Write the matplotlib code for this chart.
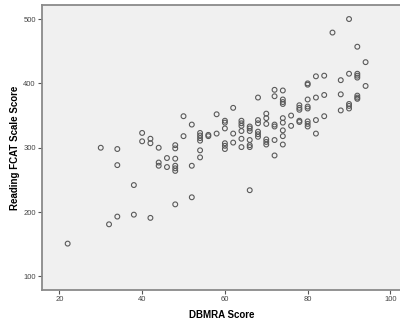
import matplotlib
matplotlib.use("Agg")
import matplotlib.pyplot as plt

plt.rcParams['font.family'] = ['Liberation Sans', 'DejaVu Sans']

# DBMRA score (x) -> list of Reading FCAT scale scores (y)
dbmra_groups = [22, 30, 32, 34, 38, 40, 42, 44, 46, 48, 50, 52, 54, 56, 58, 60,
                62, 64, 66, 68, 70, 72, 74, 76, 78, 80, 82, 84, 86, 88, 90, 92, 94]
fcat_groups = [
    [151],
    [300],
    [181],
    [298, 273, 193],
    [242, 196],
    [323, 310],
    [314, 307, 191],
    [300, 277, 272],
    [284, 270],
    [304, 299, 283, 272, 268, 264, 212],
    [349, 318],
    [336, 272, 223],
    [323, 319, 315, 311, 296, 285],
    [320, 318],
    [352, 322],
    [342, 339, 330, 307, 303, 298],
    [362, 322, 308],
    [342, 338, 334, 326, 314, 301],
    [333, 330, 326, 312, 304, 301, 234],
    [378, 343, 338, 325, 321, 317],
    [353, 346, 337, 313, 309, 305],
    [390, 380, 336, 333, 312, 288],
    [389, 375, 371, 368, 346, 339, 327, 318, 305],
    [350, 334],
    [366, 362, 359, 342, 340],
    [400, 398, 375, 364, 361, 341, 337, 333],
    [411, 378, 343, 322],
    [412, 382, 349],
    [479],
    [405, 383, 358],
    [500, 415, 368, 365, 361],
    [457, 415, 412, 409, 381, 378, 376],
    [433, 396],
]

x_ticks = [20, 40, 60, 80, 100]
y_ticks = [100, 200, 300, 400, 500]

xs, ys = [], []
for xv, yl in zip(dbmra_groups, fcat_groups):
    for yv in yl:
        xs.append(xv)
        ys.append(yv)

fig = plt.figure(figsize=(4.0, 3.26), dpi=100)
fig.patch.set_facecolor('white')
ax = fig.add_axes([0.105, 0.110, 0.90, 0.875])
ax.set_facecolor('#F0F0F0')

ax.scatter(xs, ys, s=12, facecolors='none', edgecolors='#5a5a5a', linewidths=0.8, zorder=3)

ax.set_xlim(15.8, 102.8)
ax.set_ylim(78.7, 522)
ax.set_xticks(x_ticks)
ax.set_yticks(y_ticks)
ax.tick_params(axis='both', labelsize=5.5, colors='#555555', length=3, width=0.8, pad=1.5)
for lab in ax.get_xticklabels() + ax.get_yticklabels():
    lab.set_color('#444444')

for side in ['left', 'bottom', 'top']:
    ax.spines[side].set_color('#8a8a8a')
    ax.spines[side].set_linewidth(1.3)
ax.spines['right'].set_visible(False)

ax.set_xlabel('DBMRA Score', fontsize=7, fontweight='bold', labelpad=5)
ax.set_ylabel('Reading FCAT Scale Score', fontsize=7, fontweight='bold', labelpad=2)

fig.savefig('out.png', dpi=100)
